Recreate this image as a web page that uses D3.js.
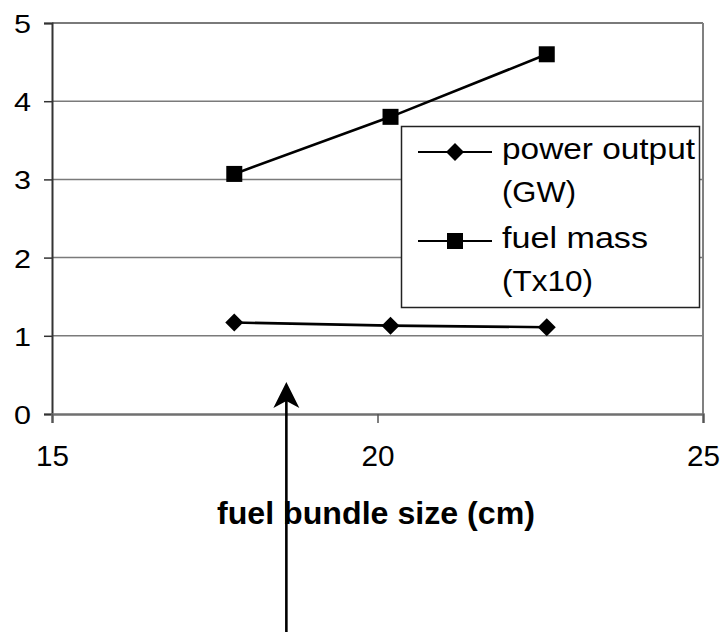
<!DOCTYPE html>
<html>
<head>
<meta charset="utf-8">
<script src="https://cdn.jsdelivr.net/npm/d3@7"></script>
<style>
  html, body { margin: 0; padding: 0; background: #fff; }
  svg { display: block; }
  text { font-family: "Liberation Sans", Arial, sans-serif; fill: #000; }
</style>
</head>
<body>
<svg id="chart" width="721" height="634"></svg>
<script>
// Fuel bundle size (cm) at each design point
const bundleSize = [17.8, 20.2, 22.6];
// Power output (GW)
const powerOutput = [1.17, 1.13, 1.11];
// Fuel mass (tonnes x10)
const fuelMass = [3.07, 3.80, 4.60];

const xTicks = [15, 20, 25];
const yTicks = [0, 1, 2, 3, 4, 5];
const seriesNames = [["power output", "(GW)"], ["fuel mass", "(Tx10)"]];
const xTitle = "fuel bundle size (cm)";
const arrowAt = 18.6;   // bundle size highlighted by the arrow

const svg = d3.select("#chart");

const x = d3.scaleLinear().domain([15, 25]).range([52, 703]);
const y = d3.scaleLinear().domain([0, 5]).range([414, 23]);

// horizontal gridlines and plot frame
svg.append("g").selectAll("line")
  .data(yTicks.slice(1))
  .join("line")
  .attr("x1", x(15)).attr("x2", x(25))
  .attr("y1", d => y(d)).attr("y2", d => y(d))
  .attr("stroke", "#7a7a7a").attr("stroke-width", d => d === 5 ? 2 : 1.5);

svg.append("line")
  .attr("x1", x(25)).attr("x2", x(25))
  .attr("y1", y(5)).attr("y2", y(0))
  .attr("stroke", "#808080").attr("stroke-width", 2);

// y axis
const yAxis = svg.append("g")
  .attr("transform", `translate(${x(15)},0)`)
  .call(d3.axisLeft(y).tickValues(yTicks).tickSize(8).tickPadding(0).tickFormat(d3.format("d")));
yAxis.select(".domain").attr("stroke", "#333").attr("stroke-width", 2);
yAxis.selectAll(".tick line").attr("stroke", "#333").attr("stroke-width", 1.5);
yAxis.selectAll(".tick text")
  .attr("x", -21).attr("dy", null).attr("y", 9.5)
  .attr("font-size", 26)
  .attr("textLength", 17).attr("lengthAdjust", "spacingAndGlyphs")
  .style("font-family", "'Liberation Sans', Arial, sans-serif");

// x axis
const xAxis = svg.append("g")
  .attr("transform", `translate(0,${y(0)})`)
  .call(d3.axisBottom(x).tickValues(xTicks).tickSize(9).tickPadding(0).tickFormat(d3.format("d")));
xAxis.select(".domain").attr("stroke", "#707070").attr("stroke-width", 2.5);
xAxis.selectAll(".tick line").attr("stroke", "#555").attr("stroke-width", 1.5);
xAxis.selectAll(".tick text")
  .attr("dy", null).attr("y", 52)
  .attr("font-size", 29)
  .attr("textLength", 33).attr("lengthAdjust", "spacingAndGlyphs")
  .style("font-family", "'Liberation Sans', Arial, sans-serif");

// x axis title
svg.append("text")
  .attr("x", 376).attr("y", 524)
  .attr("text-anchor", "middle")
  .attr("font-size", 31).attr("font-weight", "bold")
  .attr("textLength", 318).attr("lengthAdjust", "spacingAndGlyphs")
  .text(xTitle);

// series lines
const line = d3.line().x(d => x(d[0])).y(d => y(d[1]));
const powerPts = bundleSize.map((b, i) => [b, powerOutput[i]]);
const massPts = bundleSize.map((b, i) => [b, fuelMass[i]]);

svg.append("path").datum(powerPts).attr("d", line)
  .attr("fill", "none").attr("stroke", "#000").attr("stroke-width", 2.6);
svg.append("path").datum(massPts).attr("d", line)
  .attr("fill", "none").attr("stroke", "#000").attr("stroke-width", 2.6);

const diamond = (cx, cy, r) => `M${cx},${cy - r}L${cx + r},${cy}L${cx},${cy + r}L${cx - r},${cy}Z`;

svg.append("g").selectAll("path")
  .data(powerPts).join("path")
  .attr("d", d => diamond(x(d[0]), y(d[1]), 9))
  .attr("fill", "#000");

svg.append("g").selectAll("rect")
  .data(massPts).join("rect")
  .attr("x", d => x(d[0]) - 8).attr("y", d => y(d[1]) - 8)
  .attr("width", 16).attr("height", 16)
  .attr("fill", "#000");

// legend
const lg = svg.append("g");
lg.append("rect")
  .attr("x", 401.5).attr("y", 126.5).attr("width", 298).attr("height", 181)
  .attr("fill", "#fff").attr("stroke", "#222").attr("stroke-width", 1.5);

const entryY = [152, 241];
const labelWidths = [[193, 74], [146, 91]];
seriesNames.forEach((lines, i) => {
  lg.append("line")
    .attr("x1", 418).attr("x2", 492)
    .attr("y1", entryY[i]).attr("y2", entryY[i])
    .attr("stroke", "#000").attr("stroke-width", 2.2);
  if (i === 0) {
    lg.append("path").attr("d", diamond(455, entryY[i], 9)).attr("fill", "#000");
  } else {
    lg.append("rect").attr("x", 447).attr("y", entryY[i] - 8)
      .attr("width", 16).attr("height", 16).attr("fill", "#000");
  }
  lines.forEach((t, j) => {
    lg.append("text")
      .attr("x", 502).attr("y", entryY[i] + 7 + j * 43)
      .attr("font-size", 29)
      .attr("textLength", labelWidths[i][j]).attr("lengthAdjust", "spacingAndGlyphs")
      .text(t);
  });
});

// annotation arrow pointing up at the highlighted bundle size
const ax = x(arrowAt);
const tipY = 382;
svg.append("line")
  .attr("x1", ax).attr("x2", ax)
  .attr("y1", tipY + 10).attr("y2", 632)
  .attr("stroke", "#000").attr("stroke-width", 2.6);
svg.append("path")
  .attr("d", `M${ax},${tipY}L${ax + 13},${tipY + 26}L${ax},${tipY + 19}L${ax - 13},${tipY + 26}Z`)
  .attr("fill", "#000");
</script>
</body>
</html>
